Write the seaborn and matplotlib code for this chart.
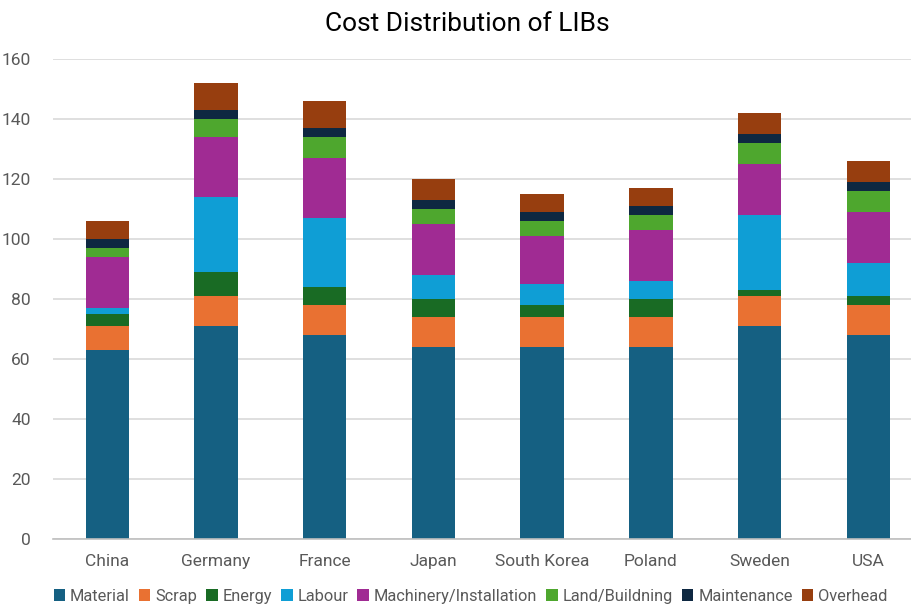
import matplotlib
matplotlib.use("Agg")
import matplotlib.pyplot as plt
import seaborn as sns
import numpy as np
import pandas as pd

countries = ["China", "Germany", "France", "Japan", "South Korea", "Poland", "Sweden", "USA"]

material = [63, 71, 68, 64, 64, 64, 71, 68]
scrap = [8, 10, 10, 10, 10, 10, 10, 10]
energy = [4, 8, 6, 6, 4, 6, 2, 3]
labour = [2, 25, 23, 8, 7, 6, 25, 11]
machinery = [17, 20, 20, 17, 16, 17, 17, 17]
land = [3, 6, 7, 5, 5, 5, 7, 7]
maintenance = [3, 3, 3, 3, 3, 3, 3, 3]
overhead = [6, 9, 9, 7, 6, 6, 7, 7]

series_names = ["Material", "Scrap", "Energy", "Labour", "Machinery/Installation",
                "Land/Buildning", "Maintenance", "Overhead"]
series_values = [material, scrap, energy, labour, machinery, land, maintenance, overhead]
series_colors = ["#156082", "#E97132", "#196B24", "#0F9ED5", "#A02B93",
                 "#4EA72E", "#0E2841", "#973E0F"]

sns.set_theme(style="white")
plt.rcParams["font.family"] = ["Roboto", "DejaVu Sans"]

fig = plt.figure(figsize=(9.12, 6.06), dpi=100)
ax = fig.add_axes([53 / 912, 67 / 606, 869.6 / 912, 480 / 606])

bottom = np.zeros(len(countries))
for name, vals, col in zip(series_names, series_values, series_colors):
    df = pd.DataFrame({"Country": countries, "Cost": vals})
    sns.barplot(data=df, x="Country", y="Cost", order=countries, color=col,
                width=0.4, bottom=bottom.copy(), linewidth=0, label=name,
                ax=ax, saturation=1, errorbar=None)
    bottom += np.array(vals, dtype=float)

ax.set_ylim(0, 160)
ax.set_xlim(-0.5, len(countries) - 0.5)
ax.set_yticks(np.arange(0, 161, 20))
ax.yaxis.grid(True, color="#d9d9d9", linewidth=1.2)
ax.set_axisbelow(True)
for side in ["top", "right", "left"]:
    ax.spines[side].set_visible(False)
ax.spines["bottom"].set_color("#bfbfbf")
ax.spines["bottom"].set_linewidth(1.2)
ax.set_xlabel("")
ax.set_ylabel("")
ax.tick_params(axis="both", length=0, labelsize=12.5, labelcolor="#595959")
ax.tick_params(axis="y", pad=16)
ax.tick_params(axis="x", pad=11)

fig.suptitle("Cost Distribution of LIBs", x=0.512, y=0.981, fontsize=19, color="#000000")

handles, labels = ax.get_legend_handles_labels()
if ax.legend_:
    ax.legend_.remove()
fig.legend(handles, labels, loc="center", bbox_to_anchor=(0.516, 0.016), ncol=8,
           frameon=False, fontsize=11.8, handlelength=0.7, handleheight=0.7,
           handletextpad=0.3, columnspacing=0.55, labelcolor="#595959")

fig.savefig("out.png", dpi=100)
